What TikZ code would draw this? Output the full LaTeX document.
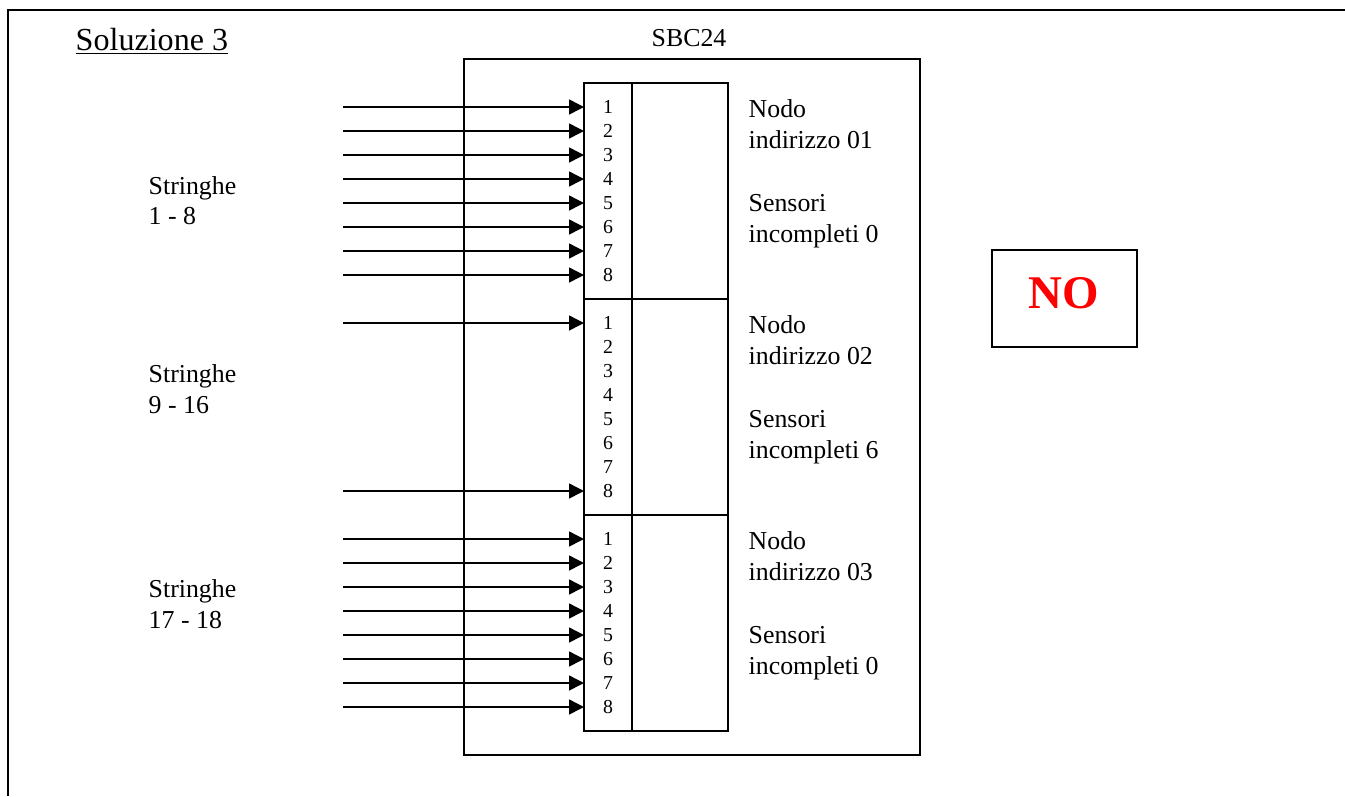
\documentclass[tikz,border=0pt]{standalone}
\usepackage{fontspec}
\setmainfont{Liberation Serif}
\usetikzlibrary{arrows.meta}

\tikzset{
  lbl/.style={anchor=base west,inner sep=0pt,font=\fontsize{12.4}{14}\selectfont},
  num/.style={anchor=base,inner sep=0pt,font=\fontsize{9.5}{11}\selectfont},
  inarrow/.style={->,line width=0.7pt}
}

\begin{document}
\begin{tikzpicture}[x=0.48pt,y=-0.48pt,>={Triangle[length=7.2pt,width=7.2pt]},line width=0.7pt]
\useasboundingbox (0,0) rectangle (1345,796);
% cornice
\draw[line width=1.2pt](8,796)--(8,10)--(1345,10);
\node[lbl,font=\fontsize{15.4}{18}\selectfont] (titolo) at (75,50) {\underline{Soluzione 3}};
% scheda SBC24
\draw (464,59) rectangle (920,755);
\node[num,font=\fontsize{12.4}{14}\selectfont] (sbc) at (689,46) {SBC24};
% nodi
\foreach \b/\t/\k in {1/83/01,2/299/02,3/515/03}{
  \draw (584,\t) rectangle (728,\t+216);
  \draw (632,\t)--(632,\t+216);
  \foreach \i in {1,...,8}{
    \node[num] (n\b-\i) at (608,\t+24*\i+6) {\i};
    \coordinate (p\b-\i) at (584,\t+24*\i);
    \coordinate (s\b-\i) at (343,\t+24*\i);
  }
  \node[lbl] (nodo\b) at (748,\t+34) {Nodo};
  \node[lbl] (ind\b) at (748,\t+65) {indirizzo \k};
  \node[lbl] (sens\b) at (748,\t+128) {Sensori};
}
\node[lbl] (inc1) at (748,242) {incompleti 0};
\node[lbl] (inc2) at (748,458) {incompleti 6};
\node[lbl] (inc3) at (748,674) {incompleti 0};
% stringhe in ingresso
\foreach \i in {1,...,8}{
  \draw[inarrow](s1-\i)--(p1-\i);
  \draw[inarrow](s3-\i)--(p3-\i);
}
\draw[inarrow](s2-1)--(p2-1);
\draw[inarrow](s2-8)--(p2-8);
\node[lbl] (str1) at (148,194) {Stringhe};
\node[lbl] (num1) at (148,224) {1 - 8};
\node[lbl] (str2) at (148,382) {Stringhe};
\node[lbl] (num2) at (148,413) {9 - 16};
\node[lbl] (str3) at (148,597) {Stringhe};
\node[lbl] (num3) at (148,628) {17 - 18};
% esito
\draw (992,250) rectangle (1137,347);
\node[num,text=red,font=\fontsize{22.5}{26}\selectfont\bfseries] (esito) at (1064,308) {NO};
\end{tikzpicture}
\end{document}
